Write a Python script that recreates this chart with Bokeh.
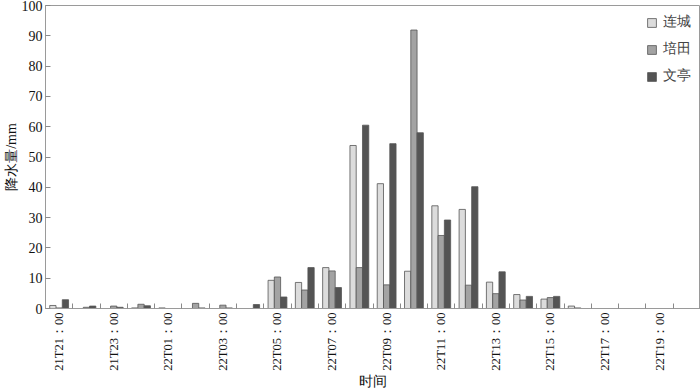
import math
from bokeh.plotting import figure
from bokeh.models import (ColumnDataSource, FixedTicker, Range1d, Legend, LegendItem)
from bokeh.transform import dodge
from bokeh.embed import file_html
from bokeh.resources import INLINE

# ---- data ----
times = ["21T21：00", "21T22：00", "21T23：00", "22T00：00", "22T01：00", "22T02：00",
         "22T03：00", "22T04：00", "22T05：00", "22T06：00", "22T07：00", "22T08：00",
         "22T09：00", "22T10：00", "22T11：00", "22T12：00", "22T13：00", "22T14：00",
         "22T15：00", "22T16：00", "22T17：00", "22T18：00", "22T19：00", "22T20：00"]
lian_cheng = [1.0, 0.0, 0.0, 0.2, 0.2, 0.0, 0.0, 0.0, 9.3, 8.6, 13.5, 53.8,
              41.2, 12.3, 33.9, 32.7, 8.7, 4.6, 3.1, 0.8, 0.0, 0.0, 0.0, 0.0]
pei_tian = [0.2, 0.4, 0.8, 1.4, 0.0, 1.7, 1.1, 0.0, 10.4, 6.1, 12.4, 13.5,
            7.8, 91.9, 24.1, 7.7, 4.9, 2.8, 3.6, 0.2, 0.0, 0.0, 0.0, 0.0]
wen_ting = [2.9, 0.8, 0.4, 0.9, 0.0, 0.2, 0.2, 1.3, 3.8, 13.5, 6.9, 60.5,
            54.4, 58.0, 29.2, 40.2, 12.1, 4.0, 4.0, 0.0, 0.0, 0.0, 0.0, 0.0]
series_names = ["连城", "培田", "文亭"]
series_colors = ["#dcdcdc", "#a3a3a3", "#545454"]
y_ticks = list(range(0, 101, 10))

idx = list(range(len(times)))
src = ColumnDataSource(dict(x=idx, a=lian_cheng, b=pei_tian, c=wen_ting))

SERIF = "Liberation Serif"

p = figure(width=700, height=391, output_backend="svg", toolbar_location=None,
           x_range=Range1d(-0.5, len(times) - 0.5), y_range=Range1d(0, 100),
           min_border_left=41, min_border_right=0, min_border_top=5, min_border_bottom=83)
p.background_fill_color = "white"
p.outline_line_color = "#9a9a9a"
p.xgrid.visible = False
p.ygrid.visible = False

bw = 0.23
renderers = []
for col, off, color in zip(["a", "b", "c"], [-bw, 0.0, bw], series_colors):
    r = p.vbar(x=dodge("x", off), top=col, width=bw, bottom=0, source=src,
               fill_color=color, line_color="#555555", line_width=0.8)
    renderers.append(r)

# x axis
xa = p.xaxis[0]
xa.ticker = FixedTicker(ticks=idx[::2], minor_ticks=[i + 0.5 for i in idx])
xa.major_label_overrides = {i: times[i] for i in idx[::2]}
xa.major_label_orientation = math.pi / 2
xa.major_label_text_font = SERIF
xa.major_label_text_font_size = "12.5px"
xa.major_label_text_color = "#111111"
xa.major_label_standoff = 4
xa.major_tick_in = 0
xa.major_tick_out = 0
xa.minor_tick_in = 5
xa.minor_tick_out = 0
xa.minor_tick_line_color = "#8a8a8a"
xa.axis_line_color = "#9a9a9a"
xa.axis_label = "时间"
xa.axis_label_text_font = SERIF
xa.axis_label_text_font_style = "normal"
xa.axis_label_text_font_size = "14px"
xa.axis_label_text_color = "#111111"
xa.axis_label_standoff = 0

# y axis
ya = p.yaxis[0]
ya.ticker = FixedTicker(ticks=y_ticks)
ya.major_label_text_font = SERIF
ya.major_label_text_font_size = "14px"
ya.major_label_text_color = "#111111"
ya.major_label_standoff = 3
ya.major_tick_in = 5
ya.major_tick_out = 0
ya.major_tick_line_color = "#8a8a8a"
ya.minor_tick_in = 0
ya.minor_tick_out = 0
ya.axis_line_color = "#9a9a9a"
ya.axis_label = "降水量/mm"
ya.axis_label_text_font = SERIF
ya.axis_label_text_font_style = "normal"
ya.axis_label_text_font_size = "14px"
ya.axis_label_text_color = "#111111"
ya.axis_label_standoff = 0

legend = Legend(items=[LegendItem(label=n, renderers=[r]) for n, r in zip(series_names, renderers)],
                location=(601, 223), padding=0, margin=0, spacing=9,
                glyph_width=11, glyph_height=11, label_height=16, label_standoff=6,
                label_text_font=SERIF, label_text_font_size="14px",
                border_line_color=None, background_fill_alpha=0)
p.add_layout(legend)

open("out.html", "w").write(file_html(p, INLINE))
